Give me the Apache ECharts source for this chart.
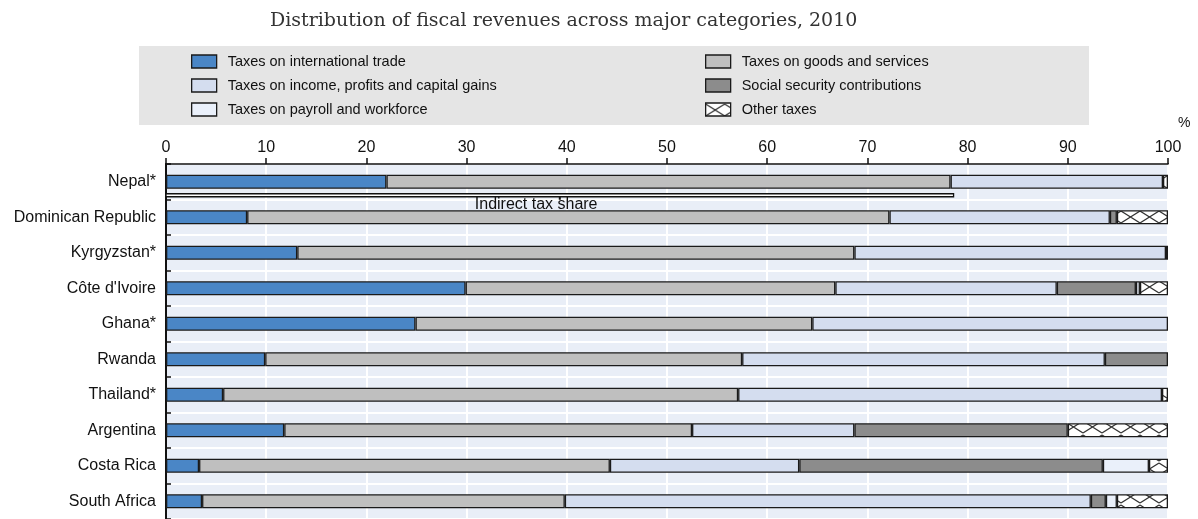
<!DOCTYPE html>
<html>
<head>
<meta charset="utf-8">
<script src="https://cdn.jsdelivr.net/npm/echarts@6/dist/echarts.min.js"></script>
<style>
  html, body { margin: 0; padding: 0; background: #fff; }
  #chart { width: 1198px; height: 519px; }
</style>
</head>
<body>
<div id="chart"></div>
<script>
// countries, top to bottom
var categories = ['Nepal*', 'Dominican Republic', 'Kyrgyzstan*', "Côte d'Ivoire", 'Ghana*', 'Rwanda', 'Thailand*', 'Argentina', 'Costa Rica', 'South Africa'];
// shares of total revenue, %
var tradeTaxes   = [22.0,  8.1, 13.1, 29.9, 24.9,  9.9,  5.7, 11.8,  3.3,  3.6];
var goodsTaxes   = [56.3, 64.1, 55.6, 36.9, 39.6, 47.6, 51.4, 40.7, 41.0, 36.2];
var incomeTaxes  = [21.2, 22.0, 31.1, 22.1, 35.5, 36.2, 42.3, 16.2, 18.9, 52.5];
var socialContr  = [0,     0.7,  0.2,  7.9,  0,    6.3,  0,   21.3, 30.3,  1.5];
var payrollTaxes = [0,     0,    0,    0.4,  0,    0,    0,    0,    4.6,  1.1];
var otherTaxes   = [0.5,   5.1,  0,    2.8,  0,    0,    0.6, 10.0,  1.9,  5.1];
// indirect tax share marker (only shown for Nepal)
var indirectCountry = 'Nepal*';
var indirectShare = 78.6;

var FONT = "'Liberation Sans', Arial, sans-serif";

var chart = echarts.init(document.getElementById('chart'));

// cross-hatch pattern for "Other taxes"
function hatch() {
    var c = document.createElement('canvas');
    c.width = 19; c.height = 14;
    var ctx = c.getContext('2d');
    ctx.fillStyle = '#fff';
    ctx.fillRect(0, 0, 19, 14);
    ctx.strokeStyle = '#333';
    ctx.lineWidth = 1.2;
    ctx.beginPath();
    ctx.moveTo(0, 1); ctx.lineTo(19, 13);
    ctx.moveTo(0, 13); ctx.lineTo(19, 1);
    ctx.stroke();
    return c;
}

function clean(arr) {
    return arr.map(function (v) { return v ? v : '-'; });
}

function barSeries(name, data, color) {
    return {
        name: name,
        type: 'bar',
        stack: 'total',
        barWidth: 14,
        data: clean(data),
        itemStyle: { color: color, borderColor: '#1a1a1a', borderWidth: 1.3 },
        emphasis: { disabled: true }
    };
}

var legendBase = {
    orient: 'vertical', top: 49,
    itemWidth: 25, itemHeight: 13, itemGap: 9,
    icon: 'rect',
    itemStyle: { borderColor: '#1a1a1a', borderWidth: 1.3 },
    textStyle: { fontFamily: FONT, fontSize: 14.5, color: '#111', padding: [0, 0, 0, 6], lineHeight: 15 }
};

var option = {
    animation: false,
    textStyle: { fontFamily: FONT },
    title: {
        text: 'Distribution of fiscal revenues across major categories, 2010',
        left: 265,
        top: 7,
        textStyle: { fontFamily: "'DejaVu Serif', serif", fontWeight: 'normal', fontSize: 19, color: '#333' }
    },
    graphic: [
        { type: 'rect', left: 139, top: 46, shape: { width: 950, height: 79 }, style: { fill: '#e5e5e5' }, z: -1 },
        { type: 'text', left: 1178, top: 116, style: { text: '%', font: '14px ' + FONT, fill: '#111' } }
    ],
    legend: [
        Object.assign({}, legendBase, {
            left: 186,
            data: ['Taxes on international trade', 'Taxes on income, profits and capital gains', 'Taxes on payroll and workforce']
        }),
        Object.assign({}, legendBase, {
            left: 700,
            data: ['Taxes on goods and services', 'Social security contributions', 'Other taxes']
        })
    ],
    grid: {
        left: 166, right: 30, top: 164, height: 360,
        show: true, backgroundColor: '#e9eef7', borderColor: '#111', borderWidth: 1.5
    },
    xAxis: {
        type: 'value', position: 'top', min: 0, max: 100, interval: 10,
        axisLine: { show: true, lineStyle: { color: '#111', width: 1.5 } },
        axisTick: { show: true, length: 6, lineStyle: { color: '#111', width: 1.5 } },
        axisLabel: { color: '#111', fontSize: 16, margin: 8, fontFamily: FONT },
        splitLine: { show: true, lineStyle: { color: '#fff', width: 2 } }
    },
    yAxis: {
        type: 'category', data: categories, inverse: true,
        axisLine: { show: true, lineStyle: { color: '#111', width: 2 } },
        axisTick: { show: true, inside: true, length: 5, lineStyle: { color: '#111', width: 1.5 } },
        axisLabel: { color: '#111', fontSize: 16, margin: 10, fontFamily: FONT },
        splitLine: { show: true, lineStyle: { color: '#fff', width: 2 } }
    },
    series: [
        barSeries('Taxes on international trade', tradeTaxes, '#4a86c6'),
        barSeries('Taxes on goods and services', goodsTaxes, '#bfbfbf'),
        barSeries('Taxes on income, profits and capital gains', incomeTaxes, '#d4ddef'),
        barSeries('Social security contributions', socialContr, '#8c8c8c'),
        barSeries('Taxes on payroll and workforce', payrollTaxes, '#eaf0fa'),
        barSeries('Other taxes', otherTaxes, { image: hatch(), repeat: 'repeat' }),
        {
            name: 'Indirect tax share',
            type: 'custom',
            data: [[indirectShare, indirectCountry]],
            encode: { x: 0, y: 1 },
            z: 5,
            renderItem: function (params, api) {
                var start = api.coord([0, api.value(1)]);
                var end = api.coord([api.value(0), api.value(1)]);
                var mid = api.coord([api.value(0) / 2, api.value(1)]);
                var y = start[1] + 12;
                return {
                    type: 'group',
                    children: [
                        { type: 'rect', shape: { x: start[0], y: y, width: end[0] - start[0], height: 3 },
                          style: { fill: '#fff', stroke: '#111', lineWidth: 1.3 } },
                        { type: 'rect', shape: { x: mid[0] - 1, y: y + 3, width: 2, height: 3 },
                          style: { fill: '#111' } },
                        { type: 'text', x: mid[0] - 85, y: y + 3,
                          style: { text: 'Indirect tax share', font: '16px ' + FONT, fill: '#111' } }
                    ]
                };
            }
        }
    ]
};

chart.setOption(option);
</script>
</body>
</html>
